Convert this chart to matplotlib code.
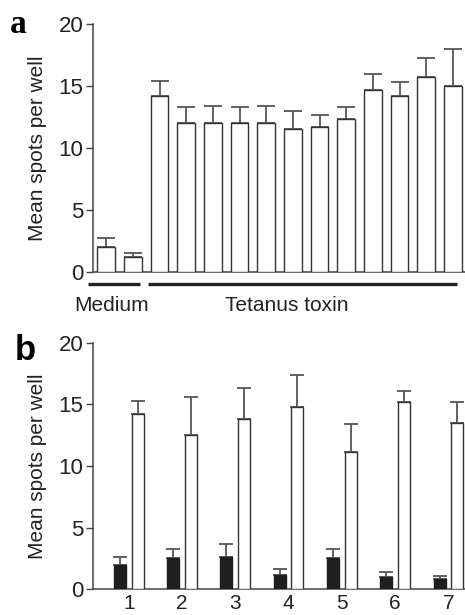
import numpy as np
import matplotlib
matplotlib.use("Agg")
import matplotlib.pyplot as plt

plt.rcParams['font.family'] = ['Liberation Sans', 'DejaVu Sans']

# ---------------- data ----------------
# Panel a: 2 medium wells + 12 tetanus toxin wells
a_means = [2.0, 1.2, 14.2, 12.0, 12.0, 12.0, 12.0, 11.5, 11.7, 12.35, 14.7, 14.2, 15.7, 15.0]
a_errs  = [0.7, 0.3, 1.25, 1.3, 1.4, 1.3, 1.4, 1.5, 0.95, 0.95, 1.25, 1.1, 1.6, 3.0]
a_groups = ["Medium", "Tetanus toxin"]

# Panel b: 7 donors, medium (black) vs tetanus toxin (white)
b_labels = ["1", "2", "3", "4", "5", "6", "7"]
b_medium = [2.0, 2.5, 2.65, 1.15, 2.5, 1.0, 0.8]
b_medium_err = [0.65, 0.75, 1.0, 0.5, 0.75, 0.4, 0.3]
b_tetanus = [14.2, 12.5, 13.85, 14.8, 11.15, 15.15, 13.5]
b_tetanus_err = [1.1, 3.1, 2.5, 2.55, 2.25, 0.95, 1.7]

yticks = [0, 5, 10, 15, 20]
ylabel = "Mean spots per well"

# ---------------- style ----------------
EDGE = '#333333'
AXC = '#444444'
ERRC = '#555555'

fig = plt.figure(figsize=(4.65, 6.15), dpi=100)

def style_axes(ax):
    for s in ['top', 'right']:
        ax.spines[s].set_visible(False)
    for s in ['left', 'bottom']:
        ax.spines[s].set_color(AXC)
        ax.spines[s].set_linewidth(1.1)
    ax.set_ylim(0, 20)
    ax.set_yticks(yticks)
    ax.tick_params(axis='y', length=5, width=1.0, color=AXC, pad=2,
                   labelsize=16, labelcolor='#222222')
    ax.set_ylabel(ylabel, fontsize=15, color='#222222')
    ax.yaxis.set_label_coords(-0.124, 0.5)

# ---------------- panel a ----------------
axa = fig.add_axes([0.2, 0.5582, 0.8, 0.4023])
xa = np.arange(len(a_means))
axa.errorbar(xa, a_means, yerr=[np.zeros(len(a_errs)), a_errs], fmt='none',
             ecolor=ERRC, elinewidth=1.3, capsize=6.5, capthick=1.3, zorder=2)
axa.bar(xa, a_means, width=0.66, color='white', edgecolor=EDGE, linewidth=1.0, zorder=3)
axa.set_xlim(-0.495, 13.455)
axa.set_xticks([])
style_axes(axa)

trans = axa.get_xaxis_transform()
group_spans = [(-0.68, 1.27, 0.217), (1.567, 13.153, 6.76)]
for name, (x0, x1, xc) in zip(a_groups, group_spans):
    axa.plot([x0, x1], [-0.051, -0.051], transform=trans, color='#222222',
             lw=2.4, clip_on=False, solid_capstyle='butt')
    axa.text(xc, -0.159, name, transform=trans, ha='center', va='baseline',
             fontsize=15, color='#222222')

fig.text(10/465, 1-33/615, 'a', fontsize=24, fontweight='bold',
         family=['Liberation Serif', 'DejaVu Serif'], va='baseline', ha='left')

# ---------------- panel b ----------------
axb = fig.add_axes([0.2, 0.0418, 0.8, 0.401])
xb = np.arange(1, len(b_labels) + 1)
off = 0.166
w = 0.225
axb.errorbar(xb - off, b_medium, yerr=[np.zeros(7), b_medium_err], fmt='none',
             ecolor=ERRC, elinewidth=1.3, capsize=5, capthick=1.3, zorder=2)
axb.errorbar(xb + off, b_tetanus, yerr=[np.zeros(7), b_tetanus_err], fmt='none',
             ecolor=ERRC, elinewidth=1.3, capsize=5, capthick=1.3, zorder=2)
axb.bar(xb - off, b_medium, width=w, color='#1e1e1e', edgecolor='#1e1e1e', linewidth=1.0, zorder=3)
axb.bar(xb + off, b_tetanus, width=w, color='white', edgecolor=EDGE, linewidth=1.0, zorder=3)
axb.set_xlim(0.33, 7.31)
axb.set_xticks(xb)
axb.set_xticklabels(b_labels)
axb.tick_params(axis='x', length=0, pad=3.5, labelsize=15, labelcolor='#222222')
style_axes(axb)

fig.text(15/465, 1-360/615, 'b', fontsize=25, fontweight='bold',
         va='baseline', ha='left')

fig.savefig('out.png', dpi=100)
